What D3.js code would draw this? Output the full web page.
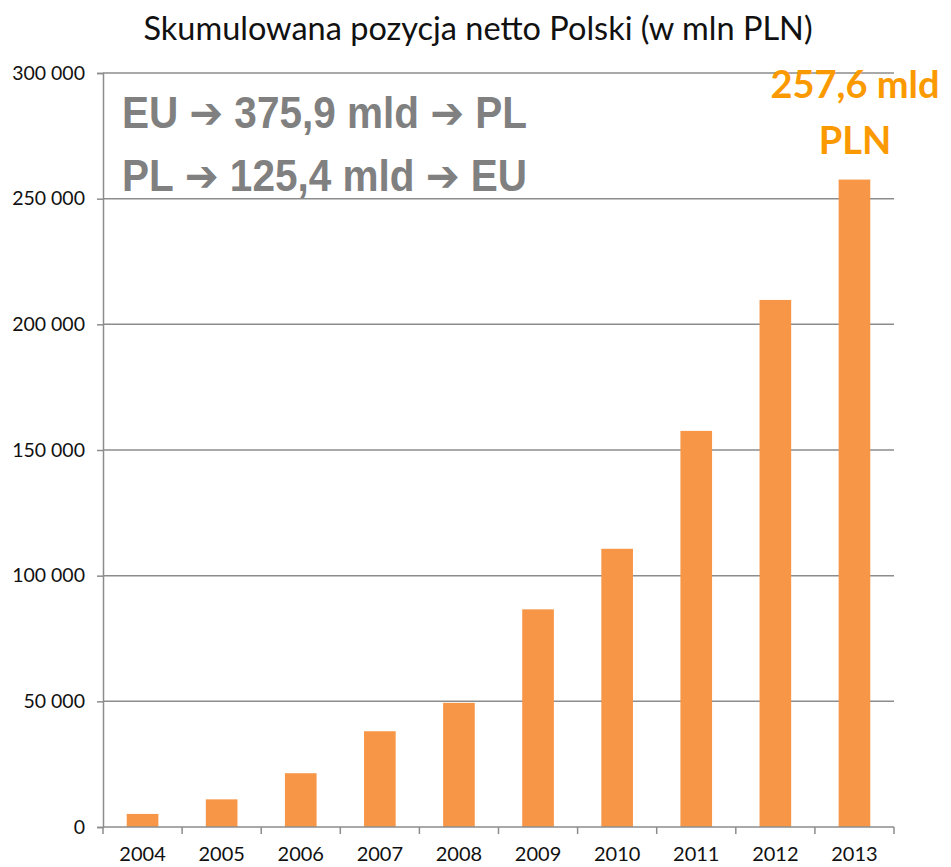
<!DOCTYPE html>
<html>
<head>
<meta charset="utf-8">
<script src="https://cdn.jsdelivr.net/npm/d3@7"></script>
<style>
  body { margin: 0; background: #fff; }
  svg { display: block; }
</style>
</head>
<body>
<div id="app"></div>
<script>
// dane
const years = ['2004', '2005', '2006', '2007', '2008', '2009', '2010', '2011', '2012', '2013']
const values = [5200, 11000, 21400, 38100, 49400, 86600, 110700, 157600, 209700, 257600]
const yTicks = [0, 50000, 100000, 150000, 200000, 250000, 300000]
const title = 'Skumulowana pozycja netto Polski (w mln PLN)'
// każda linia: [od, kwota, do]
const flowLines = [['EU', '375,9 mld', 'PL'], ['PL', '125,4 mld', 'EU']]
const totalLines = ['257,6 mld', 'PLN']

const width = 951
const height = 867
const margin = { top: 73, right: 57, bottom: 40, left: 103 }

const svg = d3.select('#app').append('svg')
  .attr('width', width)
  .attr('height', height)

const x = d3.scaleBand()
  .domain(years)
  .range([margin.left, width - margin.right])
  .paddingInner(0.6)
  .paddingOuter(0.3)

const y = d3.scaleLinear()
  .domain([0, 300000])
  .range([height - margin.bottom, margin.top])

const fmt = (v) => d3.format(',')(v).replace(/,/g, ' ')
const axisColor = '#8c8c8c'
const labelFont = 'Lato, "Open Sans", sans-serif'

// siatka
svg.append('g')
  .selectAll('line')
  .data(yTicks.filter((d) => d > 0))
  .join('line')
  .attr('x1', margin.left)
  .attr('x2', width - margin.right)
  .attr('y1', (d) => y(d))
  .attr('y2', (d) => y(d))
  .attr('stroke', axisColor)
  .attr('stroke-width', 1.5)

// słupki
svg.append('g')
  .selectAll('rect')
  .data(values)
  .join('rect')
  .attr('x', (d, i) => x(years[i]))
  .attr('y', (d) => y(d))
  .attr('width', x.bandwidth())
  .attr('height', (d) => y(0) - y(d))
  .attr('fill', '#f79646')

// oś Y
const yAxis = svg.append('g')
  .attr('transform', `translate(${margin.left},0)`)
  .call(d3.axisLeft(y).tickValues(yTicks).tickFormat(fmt).tickSize(6).tickPadding(12))
yAxis.select('.domain').attr('stroke', axisColor).attr('stroke-width', 1.5)
yAxis.selectAll('.tick line').attr('stroke', axisColor).attr('stroke-width', 1.5)
yAxis.selectAll('.tick text')
  .attr('font-family', labelFont)
  .attr('font-size', 19.5)
  .attr('fill', '#111')

// oś X - kreski między kategoriami
const bounds = d3.range(years.length + 1).map((i) => margin.left + i * (width - margin.left - margin.right) / years.length)
const xAxis = svg.append('g')
xAxis.append('line')
  .attr('x1', margin.left)
  .attr('x2', width - margin.right)
  .attr('y1', y(0))
  .attr('y2', y(0))
  .attr('stroke', axisColor)
  .attr('stroke-width', 1.5)
xAxis.selectAll('line.tk')
  .data(bounds)
  .join('line')
  .attr('class', 'tk')
  .attr('x1', (d) => d)
  .attr('x2', (d) => d)
  .attr('y1', y(0))
  .attr('y2', y(0) + 7)
  .attr('stroke', axisColor)
  .attr('stroke-width', 1.5)
xAxis.selectAll('text')
  .data(years)
  .join('text')
  .attr('x', (d) => x(d) + x.bandwidth() / 2)
  .attr('y', y(0) + 34)
  .attr('text-anchor', 'middle')
  .attr('font-family', labelFont)
  .attr('font-size', 20)
  .attr('fill', '#111')
  .text((d) => d)

// tytuł
svg.append('text')
  .attr('x', 478)
  .attr('y', 40)
  .attr('text-anchor', 'middle')
  .attr('font-family', labelFont)
  .attr('font-size', 32.5)
  .attr('fill', '#111')
  .text(title)

// przepływy - jedna linia = jeden tekst, strzałki jako tspan z odstępem dx
const flows = svg.append('g')
  .selectAll('g')
  .data(flowLines)
  .join('g')

flows.append('text')
  .attr('x', 0)
  .attr('y', 0)
  .attr('font-family', '"Liberation Sans", Arial, sans-serif')
  .attr('font-weight', 'bold')
  .attr('font-size', 44)
  .attr('fill', '#808080')
  .each(function (d) {
    const t = d3.select(this)
    const arrow = () => t.append('tspan')
      .attr('dx', 12)
      .attr('font-family', '"DejaVu Sans", sans-serif')
      .text('\u2794')
    t.append('tspan').text(d[0])
    arrow()
    t.append('tspan').attr('dx', 12).text(d[1])
    arrow()
    t.append('tspan').attr('dx', 12).text(d[2])
  })

// zwężenie do szerokości z oryginału (ok. 405 px)
flows.attr('transform', function (d, i) {
  const w = this.getBBox().width
  return `translate(122,${128 + i * 63}) scale(${405 / w},1)`
})

// suma
svg.append('g')
  .selectAll('text')
  .data(totalLines)
  .join('text')
  .attr('x', 855)
  .attr('y', (d, i) => 98 + i * 56)
  .attr('text-anchor', 'middle')
  .attr('font-family', labelFont)
  .attr('font-weight', 'bold')
  .attr('font-size', 38)
  .attr('fill', '#fb9a00')
  .text((d) => d)
</script>
</body>
</html>
